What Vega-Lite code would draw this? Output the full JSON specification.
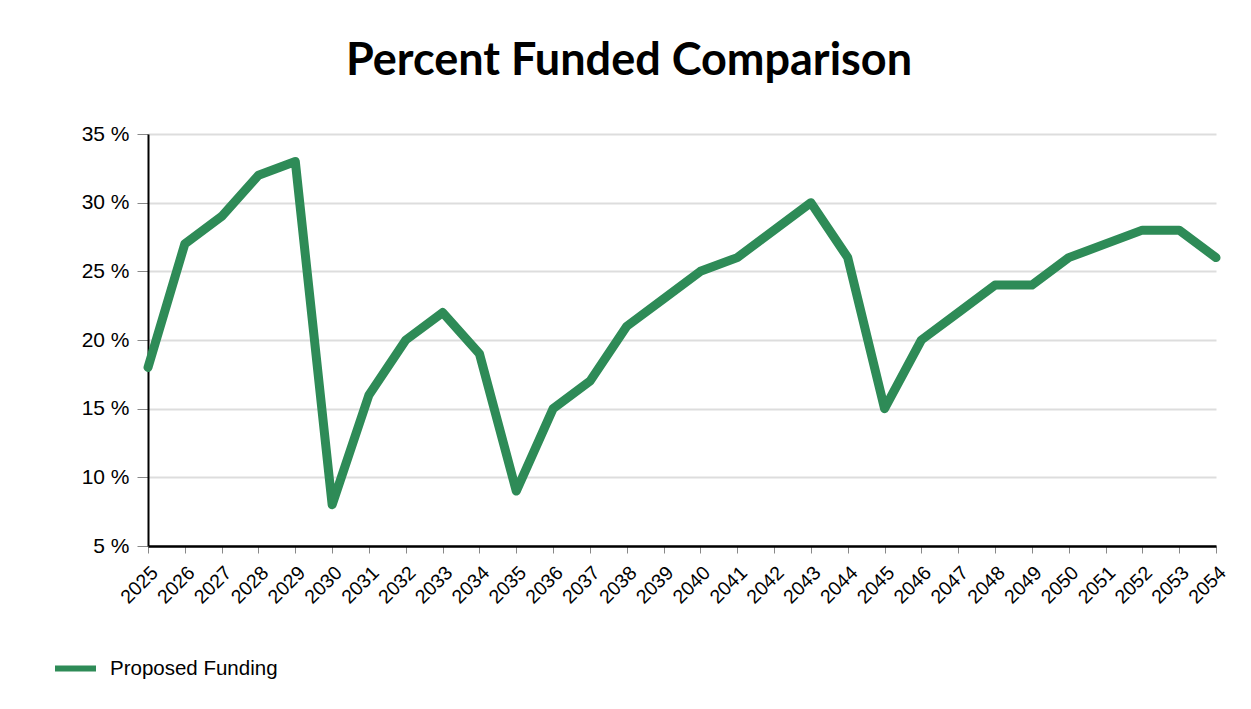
{
  "$schema": "https://vega.github.io/schema/vega-lite/v6.json",
  "width": 1068,
  "height": 412,
  "autosize": {"type": "none"},
  "padding": {"left": 148, "top": 134, "right": 35, "bottom": 163},
  "background": "white",
  "title": {
    "text": "Percent Funded Comparison",
    "font": "Lato",
    "fontWeight": "bold",
    "fontSize": 45,
    "color": "black",
    "anchor": "middle",
    "dx": -53,
    "offset": 39
  },
  "data": {
    "values": [
      {"year": "2025", "pct": 18, "series": "Proposed Funding"},
      {"year": "2026", "pct": 27, "series": "Proposed Funding"},
      {"year": "2027", "pct": 29, "series": "Proposed Funding"},
      {"year": "2028", "pct": 32, "series": "Proposed Funding"},
      {"year": "2029", "pct": 33, "series": "Proposed Funding"},
      {"year": "2030", "pct": 8, "series": "Proposed Funding"},
      {"year": "2031", "pct": 16, "series": "Proposed Funding"},
      {"year": "2032", "pct": 20, "series": "Proposed Funding"},
      {"year": "2033", "pct": 22, "series": "Proposed Funding"},
      {"year": "2034", "pct": 19, "series": "Proposed Funding"},
      {"year": "2035", "pct": 9, "series": "Proposed Funding"},
      {"year": "2036", "pct": 15, "series": "Proposed Funding"},
      {"year": "2037", "pct": 17, "series": "Proposed Funding"},
      {"year": "2038", "pct": 21, "series": "Proposed Funding"},
      {"year": "2039", "pct": 23, "series": "Proposed Funding"},
      {"year": "2040", "pct": 25, "series": "Proposed Funding"},
      {"year": "2041", "pct": 26, "series": "Proposed Funding"},
      {"year": "2042", "pct": 28, "series": "Proposed Funding"},
      {"year": "2043", "pct": 30, "series": "Proposed Funding"},
      {"year": "2044", "pct": 26, "series": "Proposed Funding"},
      {"year": "2045", "pct": 15, "series": "Proposed Funding"},
      {"year": "2046", "pct": 20, "series": "Proposed Funding"},
      {"year": "2047", "pct": 22, "series": "Proposed Funding"},
      {"year": "2048", "pct": 24, "series": "Proposed Funding"},
      {"year": "2049", "pct": 24, "series": "Proposed Funding"},
      {"year": "2050", "pct": 26, "series": "Proposed Funding"},
      {"year": "2051", "pct": 27, "series": "Proposed Funding"},
      {"year": "2052", "pct": 28, "series": "Proposed Funding"},
      {"year": "2053", "pct": 28, "series": "Proposed Funding"},
      {"year": "2054", "pct": 26, "series": "Proposed Funding"}
    ]
  },
  "mark": {"type": "line", "strokeWidth": 9, "strokeJoin": "round", "strokeCap": "round"},
  "encoding": {
    "x": {
      "field": "year",
      "type": "ordinal",
      "scale": {"type": "point", "padding": 0},
      "axis": {
        "title": null,
        "labelAngle": -45,
        "labelFont": "Liberation Sans",
        "labelFontSize": 19.5,
        "labelColor": "black",
        "labelPadding": 10,
        "domainColor": "black",
        "domainWidth": 2.5,
        "tickColor": "#888",
        "tickSize": 7,
        "tickWidth": 1,
        "grid": false
      }
    },
    "y": {
      "field": "pct",
      "type": "quantitative",
      "scale": {"domain": [5, 35], "nice": false, "zero": false},
      "axis": {
        "title": null,
        "values": [5, 10, 15, 20, 25, 30, 35],
        "labelExpr": "datum.value + ' %'",
        "labelFont": "Liberation Sans",
        "labelFontSize": 21,
        "labelColor": "black",
        "labelPadding": 8,
        "domainColor": "black",
        "domainWidth": 2,
        "tickColor": "#888",
        "tickSize": 11,
        "tickWidth": 1,
        "grid": true,
        "gridColor": "#dddddd",
        "gridWidth": 2
      }
    },
    "color": {
      "field": "series",
      "type": "nominal",
      "scale": {"range": ["#2e8b57"]},
      "legend": {
        "title": null,
        "orient": "none",
        "legendX": -96,
        "legendY": 511,
        "symbolType": "stroke",
        "symbolStrokeWidth": 6,
        "symbolSize": 1681,
        "labelFont": "Liberation Sans",
        "labelFontSize": 20.5,
        "labelColor": "black",
        "labelOffset": 11,
        "labelLimit": 400
      }
    }
  },
  "config": {"view": {"stroke": null}}
}
